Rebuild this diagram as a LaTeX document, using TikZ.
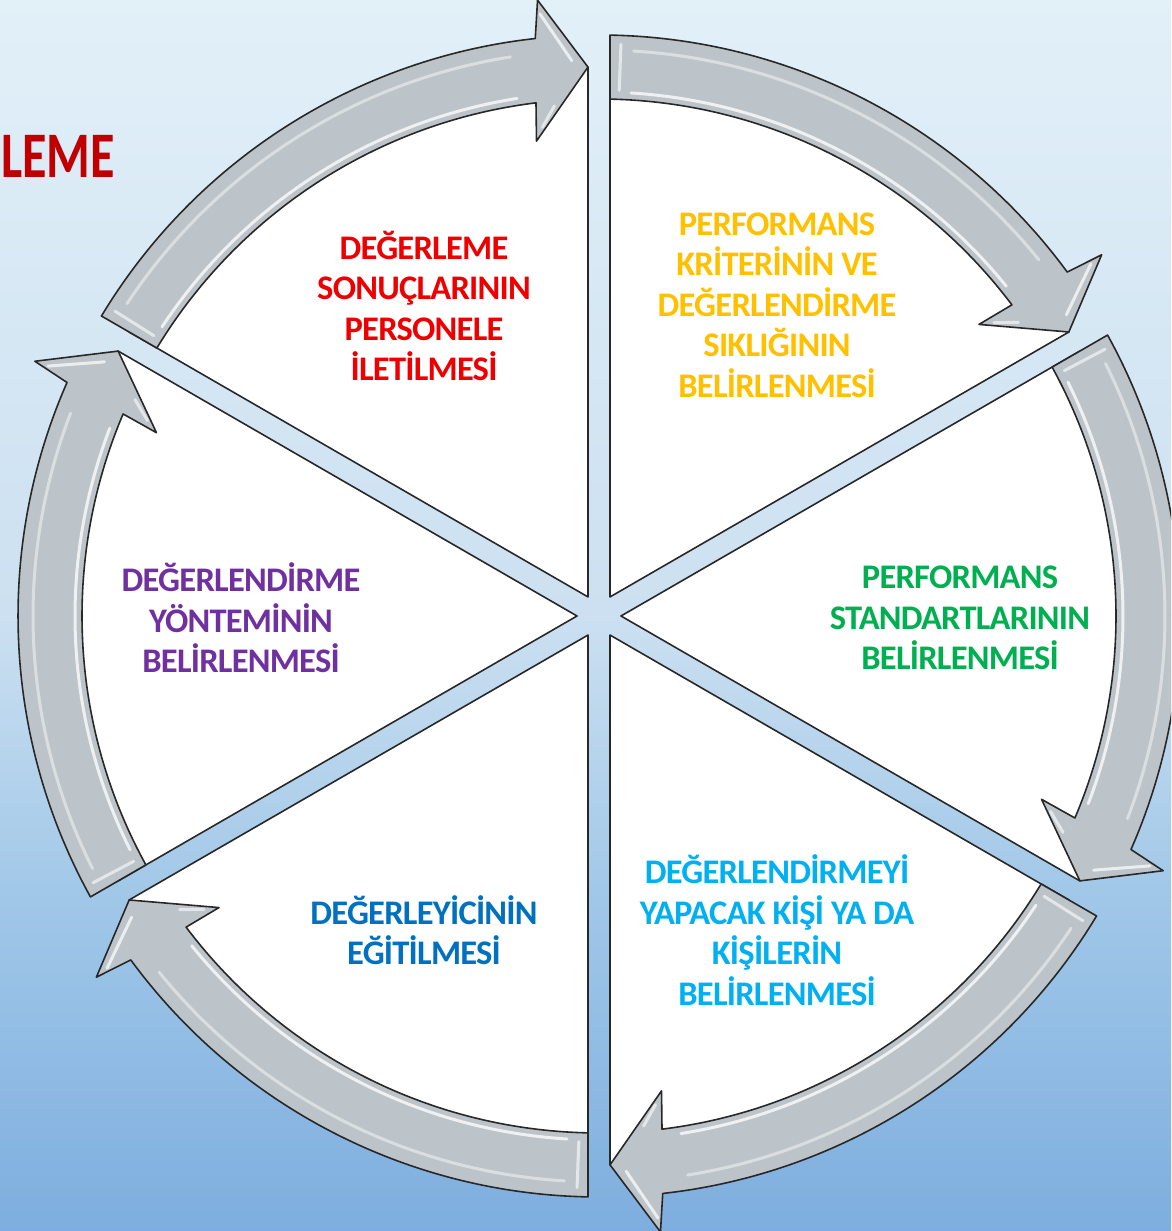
\documentclass[tikz,border=0pt]{standalone}
\usepackage{fontspec}
\usepackage{graphicx}
\setmainfont{Carlito}
\newfontfamily\lblfont{Carlito}[LetterSpace=-2.2]
\usetikzlibrary{calc}

\definecolor{bgtop}{RGB}{226,240,248}
\definecolor{bgmid}{RGB}{204,224,241}
\definecolor{bglow}{RGB}{160,199,232}
\definecolor{bgbot}{RGB}{126,174,223}
\definecolor{bandgray}{RGB}{189,196,201}
\definecolor{edge}{RGB}{40,40,40}
\definecolor{cred}{RGB}{238,0,0}
\definecolor{cdarkred}{RGB}{192,0,0}
\definecolor{cgold}{RGB}{255,192,0}
\definecolor{cgreen}{RGB}{0,176,80}
\definecolor{clight}{RGB}{0,176,240}
\definecolor{cblue}{RGB}{0,112,192}
\definecolor{cpurple}{RGB}{112,48,160}

\tikzset{
  wedge/.style={fill=white, draw=edge, line width=1.6pt, line join=round},
  band/.style={fill=bandgray, draw=edge, line width=1.6pt, line join=round},
  shine/.style={draw=white, line width=3pt, opacity=0.75, line cap=round},
  lbl/.style={font=\lblfont\bfseries\fontsize{34.5}{40.5}\selectfont, align=center, inner sep=0pt},
}

\begin{document}
\begin{tikzpicture}[x=1pt,y=1pt]
\useasboundingbox (0,0) rectangle (1171,1231);
\clip (0,0) rectangle (1171,1231);

% background gradient
\fill[top color=bgtop, bottom color=bgmid] (0,615) rectangle (1171,1231);
\fill[top color=bgmid, bottom color=bglow] (0,330) rectangle (1171,615.5);
\fill[top color=bglow, bottom color=bgbot] (0,0) rectangle (1171,330.5);

\coordinate (c) at (599,615);

\begin{scope}[shift={(c)}]
  % six white pie wedges separated by straight gaps
  \foreach \a in {90,30,-30,-90,-150,150} {
    \pgfmathsetmacro\b{\a-60}
    \pgfmathsetmacro\m{\a-30}
    \filldraw[wedge] (\m:22) -- (\a-1.148:549)
      arc[start angle=\a-1.148, end angle=\b+1.148, radius=549] -- cycle;
  }
  % curved arrows running clockwise round the ring
  \foreach \a in {90,30,-30,-90,-150,150} {
    \pgfmathsetmacro\b{\a-60}
    \filldraw[band] (\a-1.085:581)
      arc[start angle=\a-1.085, end angle=\b+6.3, radius=581]
      -- (\b+5.7:619) -- (\b+1.15:549) -- (\b+7.5:479) -- (\b+7.0:517)
      arc[start angle=\b+7.0, end angle=\a-1.219, radius=517] -- cycle;
    % bevel highlights
    \draw[shine] (\a-3.5:524) arc[start angle=\a-3.5, end angle=\b+9, radius=524];
    \draw[shine, opacity=0.45] (\a-3.5:566) arc[start angle=\a-3.5, end angle=\b+9, radius=566];
    \draw[shine, opacity=0.6] (\a-2.2:526) -- (\a-2.2:572);
    \draw[shine, opacity=0.7] (\b+5.6:605) -- (\b+2.8:556);
    \draw[shine, opacity=0.6] (\b+6.6:492) -- (\b+5.0:512);
  }
\end{scope}

% heading fragment at the left edge
\node[anchor=base east, inner sep=0pt, text=cdarkred, font=\bfseries\fontsize{65}{70}\selectfont]
  (title) at (115,1053) {\scalebox{0.77}[1]{LEME}};

% step labels
\node[lbl, text=cred]    (s1) at (424,925) {DEĞERLEME\\SONUÇLARININ\\PERSONELE\\İLETİLMESİ};
\node[lbl, text=cgold]   (s2) at (777,926) {PERFORMANS\\KRİTERİNİN VE\\DEĞERLENDİRME\\SIKLIĞININ\\BELİRLENMESİ};
\node[lbl, text=cgreen]  (s3) at (960,613) {PERFORMANS\\STANDARTLARININ\\BELİRLENMESİ};
\node[lbl, text=clight]  (s4) at (777,301) {DEĞERLENDİRMEYİ\\YAPACAK KİŞİ YA DA\\KİŞİLERİN\\BELİRLENMESİ};
\node[lbl, text=cblue]   (s5) at (424,301) {DEĞERLEYİCİNİN\\EĞİTİLMESİ};
\node[lbl, text=cpurple] (s6) at (241,613) {DEĞERLENDİRME\\YÖNTEMİNİN\\BELİRLENMESİ};
\end{tikzpicture}
\end{document}
